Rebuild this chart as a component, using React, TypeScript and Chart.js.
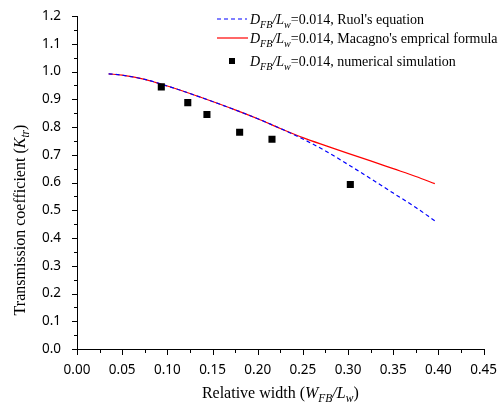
import React, { useEffect, useRef } from "react";
import { Chart, registerables } from "chart.js";

Chart.register(...registerables);

const curveX = [0.035, 0.05, 0.075, 0.1, 0.125, 0.15, 0.175, 0.2, 0.225, 0.25, 0.275, 0.3, 0.325, 0.35, 0.375, 0.396];
const ruolK = [0.992, 0.987, 0.972, 0.948, 0.921, 0.892, 0.862, 0.83, 0.795, 0.757, 0.714, 0.665, 0.614, 0.562, 0.51, 0.462];
const macagnoK = [0.992, 0.987, 0.972, 0.948, 0.921, 0.892, 0.862, 0.83, 0.795, 0.762, 0.733, 0.705, 0.678, 0.65, 0.622, 0.596];
const simX = [0.0933, 0.1226, 0.1438, 0.18, 0.2158, 0.3025];
const simK = [0.945, 0.888, 0.845, 0.781, 0.756, 0.593];

const xTickValues = [0, 0.05, 0.1, 0.15, 0.2, 0.25, 0.3, 0.35, 0.4, 0.45];
const yTickValues = [0, 0.1, 0.2, 0.3, 0.4, 0.5, 0.6, 0.7, 0.8, 0.9, 1.0, 1.1, 1.2];

type Seg = { t: string; i?: boolean; s?: boolean };
const legendPrefix: Seg[] = [
  { t: "D", i: true },
  { t: "FB", i: true, s: true },
  { t: "/L", i: true },
  { t: "w", i: true, s: true },
  { t: "=0.014, " },
];
const legendNames = ["Ruol's equation", "Macagno's emprical formula", "numerical simulation"];
const xTitle: Seg[] = [
  { t: "Relative width (" },
  { t: "W", i: true },
  { t: "FB", i: true, s: true },
  { t: "/L", i: true },
  { t: "w", i: true, s: true },
  { t: ")" },
];
const yTitle: Seg[] = [
  { t: "Transmission coefficient (" },
  { t: "K", i: true },
  { t: "tr", i: true, s: true },
  { t: ")" },
];

const SERIF = '"Liberation Serif", "Times New Roman", serif';

function fontFor(seg: Seg, size: number) {
  const sz = seg.s ? size * 0.72 : size;
  return `${seg.i ? "italic " : ""}${sz}px ${SERIF}`;
}

function richWidth(ctx: CanvasRenderingContext2D, segs: Seg[], size: number) {
  let w = 0;
  for (const seg of segs) {
    ctx.font = fontFor(seg, size);
    w += ctx.measureText(seg.t).width;
  }
  return w;
}

function drawRich(ctx: CanvasRenderingContext2D, segs: Seg[], x: number, y: number, size: number) {
  ctx.textBaseline = "alphabetic";
  ctx.textAlign = "left";
  let cx = x;
  for (const seg of segs) {
    ctx.font = fontFor(seg, size);
    ctx.fillText(seg.t, cx, seg.s ? y + size * 0.28 : y);
    cx += ctx.measureText(seg.t).width;
  }
  return cx;
}

const decorPlugin = {
  id: "decor",
  afterDraw(chart: any) {
    const ctx: CanvasRenderingContext2D = chart.ctx;
    const xs = chart.scales.x;
    const ys = chart.scales.y;
    const area = chart.chartArea;
    ctx.save();
    ctx.fillStyle = "#000";
    // ticks (major + minor)
    for (let i = 0; i < xTickValues.length; i++) {
      const v = xTickValues[i];
      const px = Math.round(xs.getPixelForValue(v));
      ctx.fillRect(px, Math.round(area.bottom), 1, 6);
      if (i < xTickValues.length - 1) {
        const m = Math.round(xs.getPixelForValue((v + xTickValues[i + 1]) / 2));
        ctx.fillRect(m, Math.round(area.bottom), 1, 4);
      }
    }
    for (let i = 0; i < yTickValues.length; i++) {
      const v = yTickValues[i];
      const py = Math.round(ys.getPixelForValue(v));
      ctx.fillRect(Math.round(area.left) - 5, py, 6, 1);
      if (i < yTickValues.length - 1) {
        const m = Math.round(ys.getPixelForValue((v + yTickValues[i + 1]) / 2));
        ctx.fillRect(Math.round(area.left) - 3, m, 4, 1);
      }
    }
    // x title
    const ts = 16;
    const xw = richWidth(ctx, xTitle, ts);
    drawRich(ctx, xTitle, (area.left + area.right) / 2 - xw / 2, 398, ts);
    // y title
    const yw = richWidth(ctx, yTitle, ts);
    ctx.save();
    ctx.translate(25, 220);
    ctx.rotate(-Math.PI / 2);
    drawRich(ctx, yTitle, -yw / 2, 0, ts);
    ctx.restore();
    // legend
    const ls = 14;
    const rows = [24, 43, 66];
    const tx = 250;
    ctx.save();
    ctx.strokeStyle = "#0000ff";
    ctx.lineWidth = 1.2;
    ctx.setLineDash([4, 3]);
    ctx.beginPath();
    ctx.moveTo(217, rows[0] - 5);
    ctx.lineTo(247, rows[0] - 5);
    ctx.stroke();
    ctx.restore();
    ctx.save();
    ctx.strokeStyle = "#ff0000";
    ctx.lineWidth = 1.2;
    ctx.beginPath();
    ctx.moveTo(217, rows[1] - 5);
    ctx.lineTo(248, rows[1] - 5);
    ctx.stroke();
    ctx.restore();
    ctx.fillRect(229, rows[2] - 8, 6, 6);
    for (let r = 0; r < 3; r++) {
      const end = drawRich(ctx, legendPrefix, tx, rows[r], ls);
      ctx.font = `${ls}px ${SERIF}`;
      ctx.fillText(legendNames[r], end, rows[r]);
    }
    ctx.restore();
  },
};

export default function App() {
  const ref = useRef<HTMLCanvasElement | null>(null);
  useEffect(() => {
    if (!ref.current) return;
    const chart = new Chart(ref.current, {
      type: "scatter",
      data: {
        datasets: [
          {
            label: "numerical simulation",
            data: simX.map((x, i) => ({ x, y: simK[i] })),
            pointStyle: "rect",
            pointRadius: 5,
            pointHoverRadius: 5,
            backgroundColor: "#000",
            borderColor: "#000",
            borderWidth: 0,
            showLine: false,
          },
          {
            label: "Ruol's equation",
            data: curveX.map((x, i) => ({ x, y: ruolK[i] })),
            showLine: true,
            borderColor: "#0000ff",
            borderWidth: 1.2,
            borderDash: [4, 3],
            pointRadius: 0,
            cubicInterpolationMode: "monotone",
          },
          {
            label: "Macagno's emprical formula",
            data: curveX.map((x, i) => ({ x, y: macagnoK[i] })),
            showLine: true,
            borderColor: "#ff0000",
            borderWidth: 1.2,
            pointRadius: 0,
            cubicInterpolationMode: "monotone",
          },
        ],
      },
      options: {
        responsive: false,
        animation: false,
        layout: { padding: { left: 0, right: 15, top: 13, bottom: 0 } },
        plugins: { legend: { display: false }, tooltip: { enabled: false } },
        scales: {
          x: {
            type: "linear",
            min: 0,
            max: 0.45,
            afterBuildTicks: (s: any) => {
              s.ticks = xTickValues.map((v) => ({ value: v }));
            },
            afterFit: (s: any) => {
              s.height = 61;
            },
            grid: { display: false },
            border: { display: true, color: "#000", width: 1 },
            ticks: {
              color: "#000",
              padding: 5,
              maxRotation: 0,
              autoSkip: false,
              font: { family: '"Noto Sans", sans-serif', size: 13.5 },
              callback: (v: any) => Number(v).toFixed(2),
            },
          },
          y: {
            type: "linear",
            min: 0,
            max: 1.2,
            afterBuildTicks: (s: any) => {
              s.ticks = yTickValues.map((v) => ({ value: v }));
            },
            afterFit: (s: any) => {
              s.width = 77;
            },
            grid: { display: false },
            border: { display: true, color: "#000", width: 1 },
            ticks: {
              color: "#000",
              padding: 8,
              autoSkip: false,
              font: { family: '"Noto Sans", sans-serif', size: 13.5 },
              callback: (v: any) => Number(v).toFixed(1),
            },
          },
        },
      },
      plugins: [decorPlugin],
    } as any);
    return () => chart.destroy();
  }, []);
  return (
    <div style={{ position: "fixed", left: 0, top: 0, width: 502, height: 410, background: "#fff" }}>
      <canvas ref={ref} width={502} height={410} style={{ width: 502, height: 410 }} />
    </div>
  );
}
